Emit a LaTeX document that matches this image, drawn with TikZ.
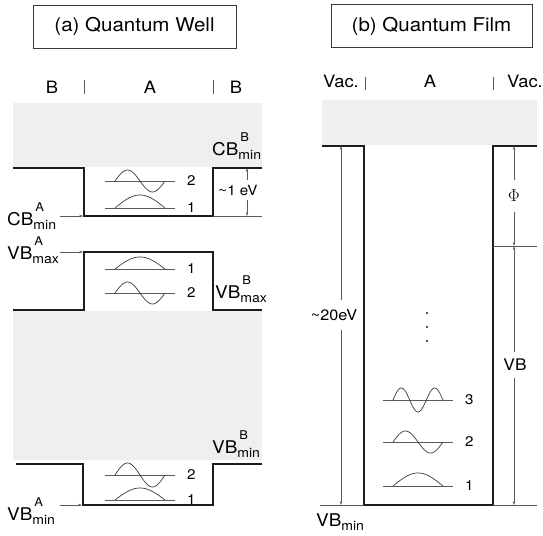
\documentclass[tikz,border=0pt]{standalone}
\usepackage{fontspec}
\setmainfont{TeX Gyre Heros}[FakeStretch=1.08]
\usepackage{tikz}
\usetikzlibrary{arrows.meta, positioning, calc}
\definecolor{ink}{HTML}{1C1C1C}
\definecolor{inksoft}{HTML}{3A3A3A}
\definecolor{guideline}{HTML}{5A5A5A}
\definecolor{bandgray}{HTML}{EFEFEF}
\tikzset{
  title/.style    = {draw=inksoft, line width=0.9pt, rectangle, inner sep=0pt,
                     minimum height=43, font=\fontsize{19}{19}\selectfont},
  region/.style   = {anchor=base, inner sep=0pt, font=\fontsize{17}{17}\selectfont},
  bandtag/.style  = {anchor=base west, inner sep=0pt, font=\fontsize{17.5}{17.5}\selectfont},
  bandline/.style = {draw=ink, line width=2pt},
  guide/.style    = {draw=guideline, line width=0.5pt},
  tick/.style     = {draw=guideline, line width=0.6pt},
  flow/.style     = {guide, -{Stealth[length=4pt, width=2.6pt]}},
  wave/.style     = {draw=inksoft, line width=0.7pt},
  lvlnum/.style   = {anchor=west, inner sep=0pt, font=\fontsize{14}{14}\selectfont},
  dimtxt/.style   = {inner sep=0pt, font=\fontsize{14}{14}\selectfont},
}
% band label with super- and subscript
\newcommand{\bandlbl}[3]{#1\makebox[0pt][l]{\raisebox{13.5pt}{\fontsize{12}{12}\selectfont\,#2}}\raisebox{-4pt}{\fontsize{13}{13}\selectfont #3}}
% bound state: x, y, half waves, amplitude, number, name
\newcommand{\eigen}[6]{%
  \draw[guide] (#1-10,#2) -- (#1+60,#2);
  \draw[wave] plot[domain=0:1, samples=40, smooth] ({#1+50*\x},{#2-#4*sin(180*#3*\x)});
  \node[lvlnum] (#6) at (#1+72,#2) {#5};
}

\begin{document}
\begin{tikzpicture}[x=1pt, y=-1pt]
  \useasboundingbox (0,0) rectangle (543,535);
  \fill[bandgray] (13,103) rectangle (262,167);
  \fill[bandgray] (13,311) rectangle (262,460);
  \fill[bandgray] (322,100) rectangle (537,145);

  % (a) quantum well
  \node[title, minimum width=203] (ttlA) at (134.5,26.5) {(a) Quantum Well};
  \node[region] (regBl) at (52,93) {B};
  \node[region] (regA) at (150,93) {A};
  \node[region] (regBr) at (236,93) {B};
  \draw[tick] (84,80) -- (84,94);
  \draw[tick] (213,80) -- (213,94);

  \draw[bandline] (13,168) -- (84,168) -- (84,216) -- (213,216) -- (213,168) -- (262,168);
  \draw[bandline] (13,310) -- (84,310) -- (84,252) -- (213,252) -- (213,310) -- (262,310);
  \draw[bandline] (16,464) -- (83,464) -- (83,505) -- (213,505) -- (213,464) -- (262,464);
  \draw[guide] (213,216) -- (262,216);

  \coordinate (cbA) at (83,216);
  \coordinate (vbmaxA) at (83,252);
  \coordinate (vbminA) at (82,505);
  \coordinate (cbBtop) at (247,168);
  \coordinate (cbBbot) at (247,216);

  \node[bandtag] (lblCBA) at (7,225) {\bandlbl{CB}{A}{min}};
  \node[bandtag] (lblVBmaxA) at (7,259) {\bandlbl{VB}{A}{max}};
  \node[bandtag] (lblVBminA) at (7,520) {\bandlbl{VB}{A}{min}};
  \node[bandtag] (lblCBB) at (212,155) {\bandlbl{CB}{B}{min}};
  \node[bandtag] (lblVBmaxB) at (215,298) {\bandlbl{VB}{B}{max}};
  \node[bandtag] (lblVBminB) at (212,453) {\bandlbl{VB}{B}{min}};

  \draw[flow] (cbA -| 60,0) -- (cbA);
  \draw[flow] (vbmaxA -| 60,0) -- (vbmaxA);
  \draw[flow] (vbminA -| 60,0) -- (vbminA);

  \node[dimtxt, minimum height=19] (gap) at (238,190) {\textasciitilde 1 eV};
  \draw[flow] (cbBtop |- gap.north) -- (cbBtop);
  \draw[flow] (cbBbot |- gap.south) -- (cbBbot);

  \eigen{115}{181}{2}{11}{2}{cb2}
  \eigen{115}{208}{1}{13}{1}{cb1}
  \eigen{115}{269}{1}{12}{1}{vb1}
  \eigen{115}{293}{2}{11}{2}{vb2}
  \eigen{115}{475}{2}{12}{2}{lo2}
  \eigen{115}{500}{1}{12}{1}{lo1}

  % (b) quantum film
  \node[title, minimum width=201] (ttlB) at (431.5,26) {(b) Quantum Film};
  \node[region] (regVl) at (341,88) {Vac.};
  \node[region] (regAf) at (430,88) {A};
  \node[region] (regVr) at (525,88) {Vac.};
  \draw[tick] (365,77) -- (365,90);
  \draw[tick] (493,77) -- (493,90);

  \draw[bandline] (322,146) -- (364,146) -- (364,505) -- (493,505) -- (493,146) -- (537,146);
  \draw[guide] (320,505) -- (364,505);
  \draw[guide] (493,505) -- (537,505);
  \draw[guide] (493,246) -- (537,246);

  \coordinate (vacL) at (341,146);
  \coordinate (botL) at (341,505);
  \coordinate (vacR) at (514,146);
  \coordinate (midR) at (514,246);
  \coordinate (botR) at (514,505);

  \node[dimtxt, font=\fontsize{15}{15}\selectfont, minimum height=30] (ev20) at (334,315) {\textasciitilde 20eV};
  \draw[flow] (vacL |- ev20.north) -- (vacL);
  \draw[flow] (botL |- ev20.south) -- (botL);

  \node[dimtxt, font=\fontsize{18}{18}\selectfont, minimum height=31] (phi) at (514,196) {$\Phi$};
  \draw[flow] (vacR |- phi.north) -- (vacR);
  \draw[flow] (midR |- phi.south) -- (midR);

  \node[dimtxt, font=\fontsize{16}{16}\selectfont, minimum height=26] (vbw) at (515,365) {VB};
  \draw[flow] (midR |- vbw.north) -- (midR);
  \draw[flow] (botR |- vbw.south) -- (botR);

  \node[bandtag] (lblVBmin) at (316,526) {VB\raisebox{-4pt}{\fontsize{13}{13}\selectfont min}};

  \foreach \d in {313,327,341}
    \fill[ink] (427,\d) circle (1.1);

  \eigen{393}{400}{3}{12}{3}{f3}
  \eigen{393}{442}{2}{11}{2}{f2}
  \eigen{393}{486}{1}{13}{1}{f1}
\end{tikzpicture}
\end{document}
